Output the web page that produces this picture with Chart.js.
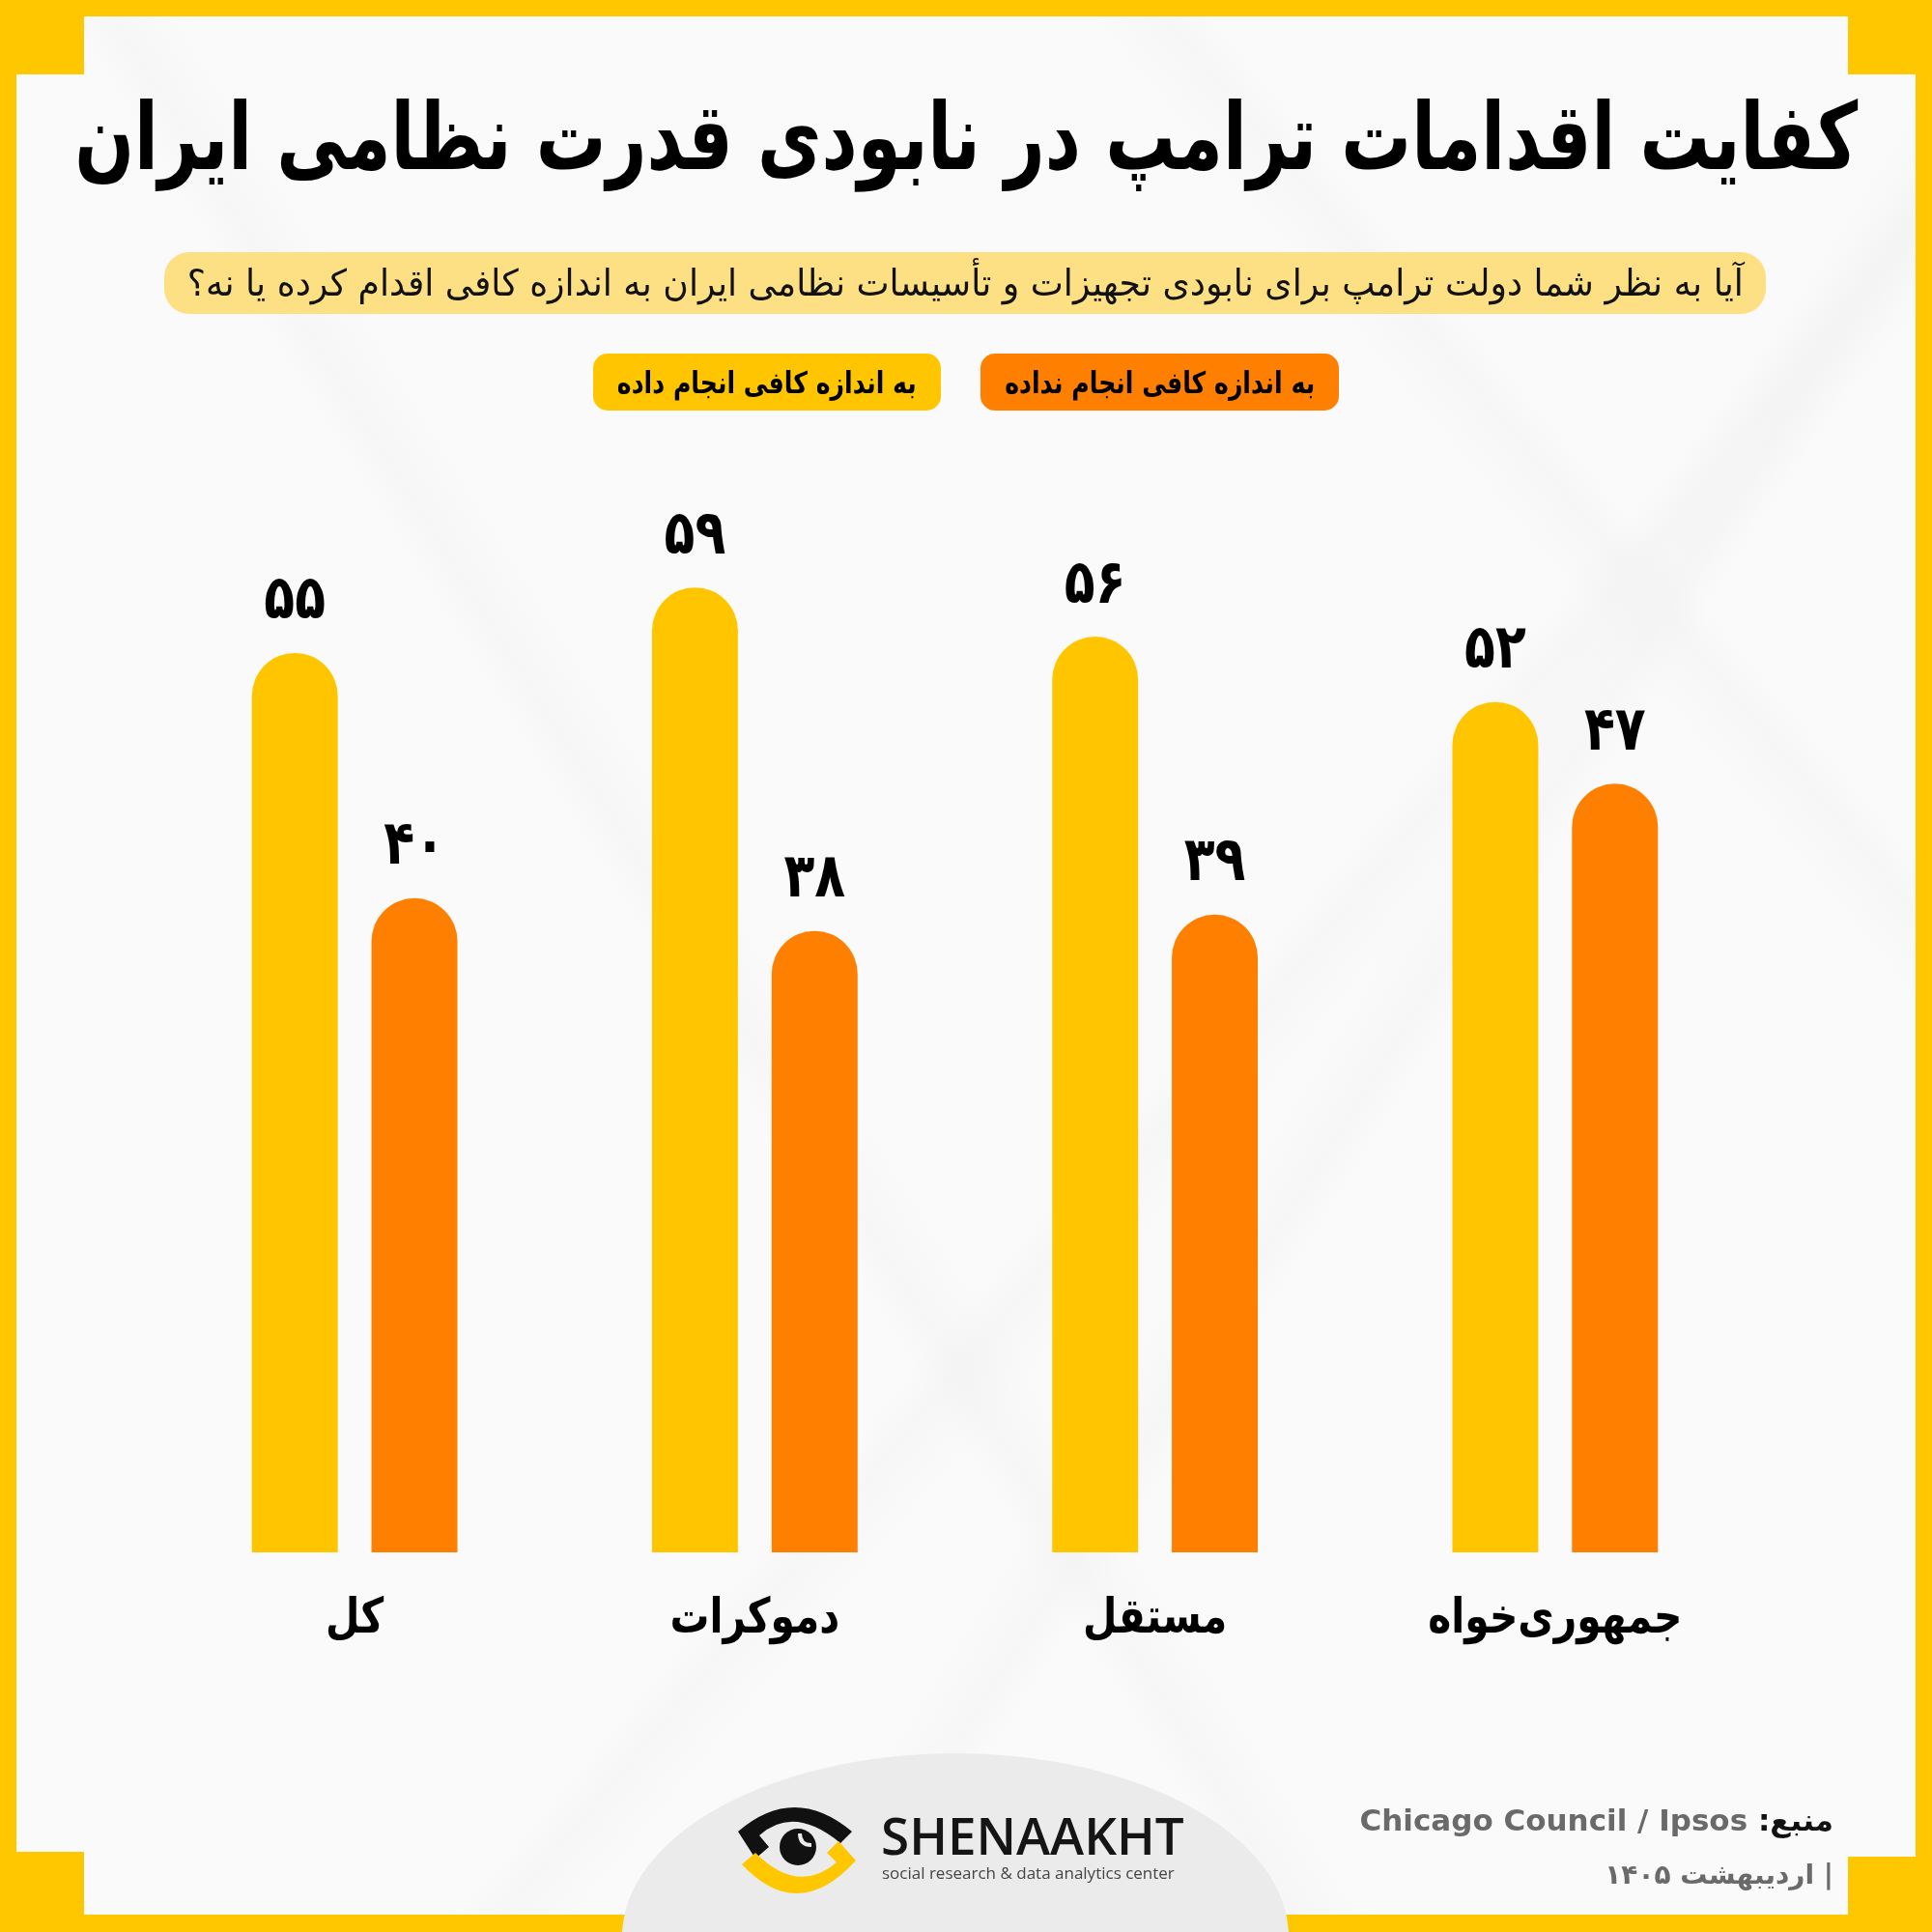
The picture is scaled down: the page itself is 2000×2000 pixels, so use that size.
<!DOCTYPE html>
<html lang="fa">
<head>
<meta charset="UTF-8">
<title>کفایت اقدامات ترامپ</title>
<script src="https://cdn.jsdelivr.net/npm/chart.js@4.4.1/dist/chart.umd.min.js"></script>
<style>
  html, body { margin: 0; padding: 0; }
  body { width: 2000px; height: 2000px; background: #ffc700; position: relative; overflow: hidden; font-family: "DejaVu Sans", sans-serif; }
  #frame {
    position: absolute; left: 17px; top: 17px; width: 1966px; height: 1965px;
    background:
      linear-gradient(58deg, transparent 40%, rgba(238,238,238,0.3) 41.5%, transparent 44%),
      linear-gradient(-58deg, transparent 33%, rgba(238,238,238,0.3) 34.5%, transparent 37%),
      linear-gradient(130deg, transparent 58%, rgba(238,238,238,0.3) 59.5%, transparent 62%),
      linear-gradient(-130deg, transparent 20%, rgba(238,238,238,0.3) 21.5%, transparent 24%),
      #fafafa;
    overflow: hidden;
  }
  .corner { position: absolute; background: #ffc700; }
  .center-row { display: flex; justify-content: center; align-items: center; }
  .fit { display: inline-block; white-space: nowrap; flex: none; transform-origin: center center; }
  #title {
    position: absolute; left: 0; width: 2000px; top: 72px; height: 140px;
    font-size: 96px; font-weight: bold; color: #000; direction: rtl;
  }
  #question {
    position: absolute; left: 170px; top: 261px; width: 1658px; height: 64px;
    background: #fee084; border-radius: 26px; font-size: 38px;
    color: #111; direction: rtl;
  }
  #legend { position: absolute; left: 0; width: 2000px; top: 366px; display: flex; justify-content: center; gap: 41px; }
  .legend-item {
    height: 59px; border-radius: 15px;
    font-size: 31px; font-weight: bold; color: #000; direction: rtl;
  }
  #chartCanvas { position: absolute; left: 0; top: 0; }
  #blob { position: absolute; left: 644px; top: 1815px; width: 690px; height: 380px; border-radius: 50%; background: #ebebeb; }
  #logo { position: absolute; left: 760px; top: 1862px; }
  #brand { position: absolute; left: 912px; top: 1868px; font-family: "Open Sans", sans-serif; font-weight: 600; font-size: 53px; color: #151515; line-height: 64px; }
  #brandSub { position: absolute; left: 913px; top: 1927px; font-family: "Open Sans", sans-serif; font-size: 17px; color: #444; }
  #source { position: absolute; right: 102px; top: 1866px; font-size: 31px; font-weight: bold; color: #6a6a6a; direction: rtl; white-space: nowrap; }
  #source b { color: #111; }
  #date { position: absolute; right: 102px; top: 1924px; font-size: 28px; font-weight: bold; color: #6a6a6a; direction: rtl; white-space: nowrap; }
</style>
</head>
<body>
<div id="frame"></div>
<div class="corner" style="left:0;top:0;width:87px;height:77px"></div>
<div class="corner" style="left:1913px;top:0;width:87px;height:77px"></div>
<div class="corner" style="left:0;top:1917px;width:87px;height:83px"></div>
<div class="corner" style="left:1913px;top:1922px;width:87px;height:78px"></div>

<div id="blob"></div>
<canvas id="chartCanvas" width="2000" height="2000"></canvas>

<div id="title" class="center-row"><span class="fit" data-w="1846">کفایت اقدامات ترامپ در نابودی قدرت نظامی ایران</span></div>
<div id="question" class="center-row"><span class="fit" data-w="1611">آیا به نظر شما دولت ترامپ برای نابودی تجهیزات و تأسیسات نظامی ایران به اندازه کافی اقدام کرده یا نه؟</span></div>
<div id="legend"></div>

<svg id="logo" width="130" height="104" viewBox="0 0 130 104">
  <!-- upper arc -->
  <path d="M4 34 Q62 -16 122 34 L110 46 Q62 6 26 38 L36 50 L22 62 Z" fill="#111"/>
  <!-- pupil -->
  <circle cx="66" cy="50" r="19" fill="#111"/>
  <path d="M68 36 Q68 48 80 48" stroke="#ebebeb" stroke-width="4" fill="none"/>
  <!-- lower arc -->
  <path d="M126 64 Q66 130 8 68 L22 56 Q66 100 106 66 L96 56 L108 44 Z" fill="#ffc700"/>
</svg>
<div id="brand">SHENAAKHT</div>
<div id="brandSub">social research &amp; data analytics center</div>

<div id="source"><b>منبع:</b> Chicago Council / Ipsos</div>
<div id="date">| اردیبهشت ۱۴۰۵</div>

<script>
// داده‌ها
const categories = ["کل", "دموکرات", "مستقل", "جمهوری‌خواه"];
const seriesNames = ["به اندازه کافی انجام داده", "به اندازه کافی انجام نداده"];
const doneValues = [55, 59, 56, 52];
const notDoneValues = [40, 38, 39, 47];
const seriesColors = ["#ffc600", "#ff7f00"];

// اعداد فارسی
function toPersianDigits(n) {
  return String(n).replace(/\d/g, (d) => "۰۱۲۳۴۵۶۷۸۹"[d]);
}

// راهنما
const legendBox = document.getElementById("legend");
const legendWidths = [360, 371];
seriesNames.forEach((name, i) => {
  const item = document.createElement("div");
  item.className = "legend-item center-row";
  item.style.background = seriesColors[i];
  item.style.width = legendWidths[i] + "px";
  const span = document.createElement("span");
  span.className = "fit";
  span.dataset.w = legendWidths[i] - 50;
  span.textContent = name;
  item.appendChild(span);
  legendBox.appendChild(item);
});

// فشرده‌سازی افقی متن‌ها
document.querySelectorAll(".fit").forEach((el) => {
  const w = el.getBoundingClientRect().width;
  const target = parseFloat(el.dataset.w);
  el.style.transform = `scaleX(${target / w})`;
});

// برچسب مقادیر و دسته‌ها
const labelsPlugin = {
  id: "labelsPlugin",
  afterDatasetsDraw(chart) {
    const ctx = chart.ctx;
    ctx.save();
    ctx.fillStyle = "#000";
    ctx.textAlign = "center";
    ctx.textBaseline = "middle";
    chart.data.datasets.forEach((ds, i) => {
      chart.getDatasetMeta(i).data.forEach((bar, j) => {
        ctx.save();
        ctx.translate(bar.x, bar.y - 52);
        ctx.scale(0.9, 1.1);
        ctx.font = "bold 58px 'DejaVu Sans'";
        ctx.fillText(toPersianDigits(ds.data[j]), 0, 0);
        ctx.restore();
      });
    });
    const xScale = chart.scales.x;
    categories.forEach((c, j) => {
      ctx.save();
      ctx.translate(xScale.getPixelForValue(j), chart.chartArea.bottom + 70);
      ctx.scale(0.85, 1.05);
      ctx.font = "bold 48px 'DejaVu Sans'";
      ctx.fillText(c, 0, 0);
      ctx.restore();
    });
    ctx.restore();
  },
};

const ctx = document.getElementById("chartCanvas").getContext("2d");
const chart = new Chart(ctx, {
  type: "bar",
  data: {
    labels: categories,
    datasets: [
      {
        label: seriesNames[0],
        data: doneValues,
        backgroundColor: seriesColors[0],
        borderRadius: { topLeft: 45, topRight: 45, bottomLeft: 0, bottomRight: 0 },
        borderSkipped: false,
      },
      {
        label: seriesNames[1],
        data: notDoneValues,
        backgroundColor: seriesColors[1],
        borderRadius: { topLeft: 45, topRight: 45, bottomLeft: 0, bottomRight: 0 },
        borderSkipped: false,
      },
    ],
  },
  options: {
    responsive: false,
    animation: false,
    categoryPercentage: 0.598,
    barPercentage: 0.718,
    layout: { padding: { left: 160, right: 183, top: 422, bottom: 393 } },
    plugins: {
      legend: { display: false },
      tooltip: { enabled: false },
    },
    scales: {
      x: { display: false },
      y: { display: false, min: 0, max: 70 },
    },
  },
  plugins: [labelsPlugin],
});
</script>
</body>
</html>
